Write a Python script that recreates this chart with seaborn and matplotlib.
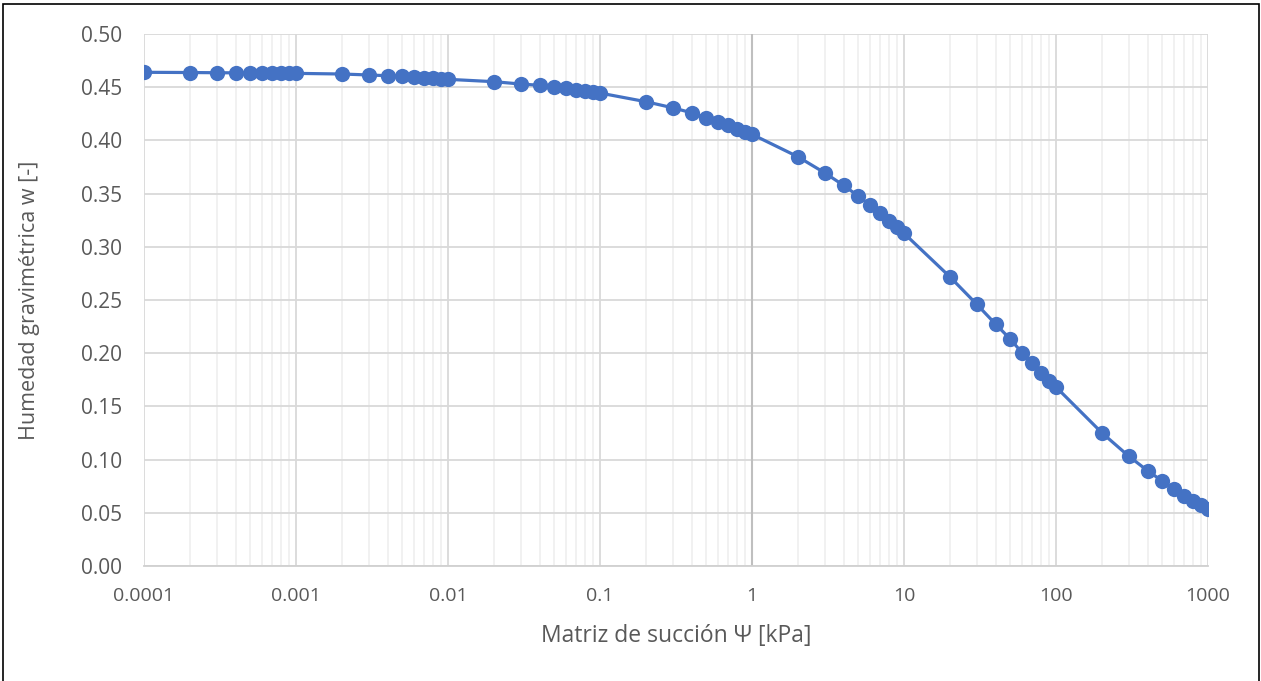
import numpy as np
import pandas as pd
import matplotlib
matplotlib.use("Agg")
import matplotlib.pyplot as plt
from matplotlib.patches import Rectangle
from matplotlib.ticker import LogLocator, FixedLocator, FixedFormatter
import seaborn as sns

# Data
suction_kpa = [
    1e-4, 2e-4, 3e-4, 4e-4, 5e-4, 6e-4, 7e-4, 8e-4, 9e-4,
    1e-3, 2e-3, 3e-3, 4e-3, 5e-3, 6e-3, 7e-3, 8e-3, 9e-3,
    1e-2, 2e-2, 3e-2, 4e-2, 5e-2, 6e-2, 7e-2, 8e-2, 9e-2,
    0.1, 0.2, 0.3, 0.4, 0.5, 0.6, 0.7, 0.8, 0.9,
    1, 2, 3, 4, 5, 6, 7, 8, 9,
    10, 20, 30, 40, 50, 60, 70, 80, 90,
    100, 200, 300, 400, 500, 600, 700, 800, 900,
    1000,
]
water_content = [
    0.4640, 0.4638, 0.4636, 0.4635, 0.4633, 0.4633, 0.4632, 0.4632, 0.4631,
    0.4630, 0.4624, 0.4615, 0.4608, 0.4602, 0.4597, 0.4589, 0.4584, 0.4577,
    0.4574, 0.4552, 0.4530, 0.4518, 0.4502, 0.4488, 0.4474, 0.4464, 0.4455,
    0.4445, 0.4364, 0.4307, 0.4260, 0.4213, 0.4176, 0.4142, 0.4107, 0.4082,
    0.4057, 0.3847, 0.3696, 0.3578, 0.3477, 0.3390, 0.3315, 0.3245, 0.3183,
    0.3127, 0.2719, 0.2462, 0.2274, 0.2133, 0.2002, 0.1908, 0.1814, 0.1739,
    0.1682, 0.1253, 0.1034, 0.0896, 0.0799, 0.0724, 0.0661, 0.0614, 0.0573,
    0.0536,
]
x_ticks = [1e-4, 1e-3, 1e-2, 1e-1, 1, 10, 100, 1000]
x_tick_labels = ["0.0001", "0.001", "0.01", "0.1", "1", "10", "100", "1000"]
y_ticks = [0.00, 0.05, 0.10, 0.15, 0.20, 0.25, 0.30, 0.35, 0.40, 0.45, 0.50]
y_tick_labels = ["0.00", "0.05", "0.10", "0.15", "0.20", "0.25", "0.30", "0.35", "0.40", "0.45", "0.50"]
x_label = "Matriz de succión Ψ [kPa]"
y_label = "Humedad gravimétrica w [-]"

sns.set_theme(style="white")
plt.rcParams["font.family"] = ["Open Sans", "DejaVu Sans"]

df = pd.DataFrame({"x": suction_kpa, "y": water_content})

W, H = 1261, 681
fig = plt.figure(figsize=(W / 100, H / 100), dpi=100)
ax = fig.add_axes([144 / W, 1 - 566 / H, (1208 - 144) / W, (566 - 34) / H])

blue = "#4472C4"
text_col = "#595959"

ax.set_xscale("log")
ax.set_xlim(1e-4, 1000)
ax.set_ylim(0, 0.5)

# grids
ax.xaxis.set_minor_locator(LogLocator(base=10, subs=np.arange(2, 10), numticks=100))
ax.grid(which="major", axis="both", color="#d9d9d9", linewidth=1.3, zorder=0)
ax.grid(which="minor", axis="x", color="#f0f0f0", linewidth=1.3, zorder=0)
ax.set_axisbelow(True)
ax.axvline(1, color="#bfbfbf", linewidth=1.5, zorder=1)

sns.lineplot(data=df, x="x", y="y", ax=ax, color=blue, linewidth=2.3,
             marker="o", markersize=11, markeredgewidth=0, markeredgecolor=blue,
             zorder=3, sort=False)

ax.xaxis.set_major_locator(FixedLocator(x_ticks))
ax.xaxis.set_major_formatter(FixedFormatter(x_tick_labels))
ax.set_yticks(y_ticks)
ax.set_yticklabels(y_tick_labels)
ax.tick_params(axis="both", which="both", length=0, labelcolor=text_col)
ax.tick_params(axis="x", labelsize=14, pad=15)
ax.tick_params(axis="y", labelsize=15, pad=16)

for s in ["top", "right", "left"]:
    ax.spines[s].set_visible(False)
ax.spines["bottom"].set_color("#d0d0d0")
ax.spines["bottom"].set_linewidth(1.3)

ax.set_xlabel(x_label, fontsize=16.5, color=text_col)
ax.set_ylabel(y_label, fontsize=15.5, color=text_col)
ax.xaxis.label.set_va("center")
ax.yaxis.label.set_va("center")
ax.yaxis.label.set_ha("center")
ax.xaxis.set_label_coords(0.5, (566 - 636) / 532)
ax.yaxis.set_label_coords((30 - 144) / 1064, 0.5)

# outer border
fig.patches.append(Rectangle((3 / W, -0.01), (1259 - 3) / W, 1 - 4 / H + 0.01,
                             transform=fig.transFigure, fill=False,
                             edgecolor="black", linewidth=1.2))

fig.savefig("out.png", dpi=100)
